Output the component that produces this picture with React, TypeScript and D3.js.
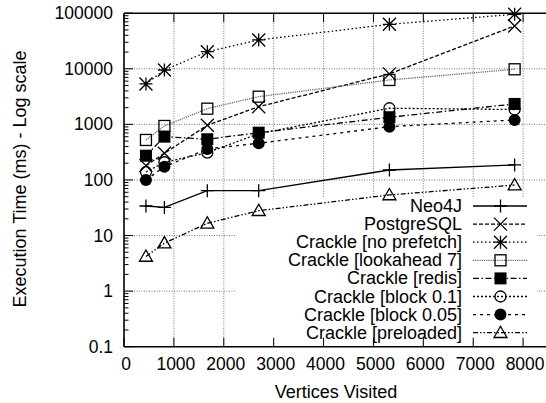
import React from "react";
import * as d3 from "d3";

// vertices visited (x) for every series
const vertices = [440, 810, 1670, 2700, 5320, 7830];

// execution times in ms
const neo4j = [34, 32, 64, 64, 151, 186];
const postgres = [181, 302, 963, 2080, 8100, 59000];
const noPrefetch = [5330, 9510, 20300, 33000, 63100, 95500];
const lookahead7 = [524, 936, 1915, 3150, 6290, 9800];
const redis = [273, 601, 540, 709, 1343, 2330];
const block01 = [139, 208, 310, 680, 1950, 1850];
const block005 = [100, 173, 361, 457, 910, 1200];
const preloaded = [4.2, 7.3, 16.6, 28, 53.7, 81];

const seriesNames = [
  "Neo4J",
  "PostgreSQL",
  "Crackle [no prefetch]",
  "Crackle [lookahead 7]",
  "Crackle [redis]",
  "Crackle [block 0.1]",
  "Crackle [block 0.05]",
  "Crackle [preloaded]",
];
const seriesValues = [neo4j, postgres, noPrefetch, lookahead7, redis, block01, block005, preloaded];

const xTicks = [0, 1000, 2000, 3000, 4000, 5000, 6000, 7000, 8000];
const yTickLabels = ["0.1", "1", "10", "100", "1000", "10000", "100000"];

const W = 546;
const H = 403;
const left = 124;
const top = 13.2;
const bottom = 346.7;
const right = 573;

const styles = [
  { dash: null, marker: "plus", color: "#000" },
  { dash: "4,2", marker: "cross", color: "#000" },
  { dash: "1.5,2.5", marker: "star", color: "#000" },
  { dash: "1.2,1", marker: "square", color: "#666" },
  { dash: "6,2.5,1.5,2.5", marker: "fsquare", color: "#000" },
  { dash: "2,2", marker: "circle", color: "#000" },
  { dash: "3,4", marker: "fcircle", color: "#000" },
  { dash: "5,2,1.5,2,1.5,2", marker: "triangle", color: "#000" },
];

function Marker({ type, x, y }) {
  const s = 6.5;
  const common = { stroke: "#000", strokeWidth: 1.3 };
  switch (type) {
    case "plus":
      return <path d={`M${x - s},${y}H${x + s}M${x},${y - s}V${y + s}`} {...common} fill="none" />;
    case "cross":
      return (
        <path
          d={`M${x - s},${y - s}L${x + s},${y + s}M${x - s},${y + s}L${x + s},${y - s}`}
          {...common}
          fill="none"
        />
      );
    case "star":
      return (
        <path
          d={`M${x - s},${y}H${x + s}M${x},${y - s}V${y + s}M${x - s},${y - s}L${x + s},${y + s}M${x - s},${y + s}L${x + s},${y - s}`}
          {...common}
          fill="none"
        />
      );
    case "square":
      return <rect x={x - 5.5} y={y - 5.5} width={11} height={11} {...common} fill="none" />;
    case "fsquare":
      return <rect x={x - 6} y={y - 6} width={12} height={12} fill="#000" />;
    case "circle":
      return <circle cx={x} cy={y} r={5.5} {...common} fill="none" />;
    case "fcircle":
      return <circle cx={x} cy={y} r={6} fill="#000" />;
    case "triangle":
      return (
        <path
          d={`M${x},${y - 6.5}L${x + 6.5},${y + 4.8}L${x - 6.5},${y + 4.8}Z`}
          {...common}
          fill="none"
        />
      );
    default:
      return null;
  }
}

export default function App() {
  const x = d3.scaleLinear().domain([0, 9000]).range([left, right]);
  const y = d3.scaleLog().domain([0.1, 100000]).range([bottom, top]);

  const line = d3
    .line<number>()
    .x((d, i) => x(vertices[i]))
    .y((d) => y(d));

  const allYTicks = y.ticks();
  const majorY = allYTicks.filter((t) => Math.abs(Math.log10(t) - Math.round(Math.log10(t))) < 1e-9);

  const font = "'Liberation Sans', Arial, Helvetica, sans-serif";

  // legend
  const legX = 462;
  const legY0 = 206;
  const legStep = 18.1;

  return (
    <svg
      width={W}
      height={H}
      style={{ position: "absolute", left: 0, top: 0, background: "#fff" }}
      fontFamily={font}
    >
      <defs>
        <clipPath id="plot">
          <rect x={left} y={top - 7} width={right - left} height={bottom - top + 7} />
        </clipPath>
      </defs>

      {/* grid */}
      <g stroke="#777" strokeWidth={1} strokeDasharray="1,1.5">
        {xTicks.slice(1).map((t) => (
          <line key={"gx" + t} x1={x(t)} x2={x(t)} y1={top} y2={bottom} />
        ))}
        {majorY.slice(1, -1).map((t) => (
          <line key={"gy" + t} x1={left} x2={right} y1={y(t)} y2={y(t)} />
        ))}
      </g>

      {/* opaque key box */}
      <rect x={235} y={197} width={302} height={144} fill="#fff" />

      {/* ticks */}
      <g stroke="#000" strokeWidth={1}>
        {allYTicks.map((t) => {
          const major = majorY.includes(t);
          const len = major ? 9 : 4.5;
          return <line key={"ty" + t} x1={left} x2={left + len} y1={y(t)} y2={y(t)} />;
        })}
        {xTicks.map((t) => (
          <g key={"tx" + t}>
            <line x1={x(t)} x2={x(t)} y1={bottom} y2={bottom - 9} />
            <line x1={x(t)} x2={x(t)} y1={top} y2={top + 9} />
          </g>
        ))}
      </g>

      {/* series */}
      <g clipPath="url(#plot)">
        {seriesValues.map((vals, si) => (
          <path
            key={"l" + si}
            d={line(vals)}
            fill="none"
            stroke={styles[si].color}
            strokeWidth={1.3}
            strokeDasharray={styles[si].dash || undefined}
          />
        ))}
        {seriesValues.map((vals, si) =>
          vals.map((v, i) => <Marker key={`m${si}-${i}`} type={styles[si].marker} x={x(vertices[i])} y={y(v)} />)
        )}
      </g>

      {/* border */}
      <g stroke="#000" strokeWidth={1.6} fill="none">
        <line x1={left} x2={W} y1={top} y2={top} />
        <line x1={left} x2={W} y1={bottom} y2={bottom} />
        <line x1={left} x2={left} y1={top} y2={bottom} />
      </g>

      {/* y tick labels */}
      <g fontSize={17.5} textAnchor="end" fill="#000">
        {majorY.map((t, i) => (
          <text key={"yl" + t} x={113} y={y(t)} dominantBaseline="central">
            {yTickLabels[i]}
          </text>
        ))}
      </g>

      {/* x tick labels */}
      <g fontSize={17.5} textAnchor="middle" fill="#000">
        {xTicks.map((t) => (
          <text key={"xl" + t} x={x(t) + 2} y={363.5} dominantBaseline="central">
            {d3.format("d")(t)}
          </text>
        ))}
      </g>

      {/* axis titles */}
      <text x={336} y={392} fontSize={18} textAnchor="middle" dominantBaseline="central">
        Vertices Visited
      </text>
      <text
        transform={`translate(20,179) rotate(-90)`}
        fontSize={18}
        textAnchor="middle"
        dominantBaseline="central"
      >
        Execution Time (ms) - Log scale
      </text>

      {/* legend */}
      {seriesNames.map((name, i) => {
        const ly = legY0 + i * legStep;
        return (
          <g key={"lg" + i}>
            <text x={legX} y={ly} fontSize={18} textAnchor="end" dominantBaseline="central">
              {name}
            </text>
            <line
              x1={473}
              x2={527}
              y1={ly}
              y2={ly}
              stroke={styles[i].color}
              strokeWidth={1.3}
              strokeDasharray={styles[i].dash || undefined}
            />
            <Marker type={styles[i].marker} x={500.5} y={ly} />
          </g>
        );
      })}
    </svg>
  );
}
